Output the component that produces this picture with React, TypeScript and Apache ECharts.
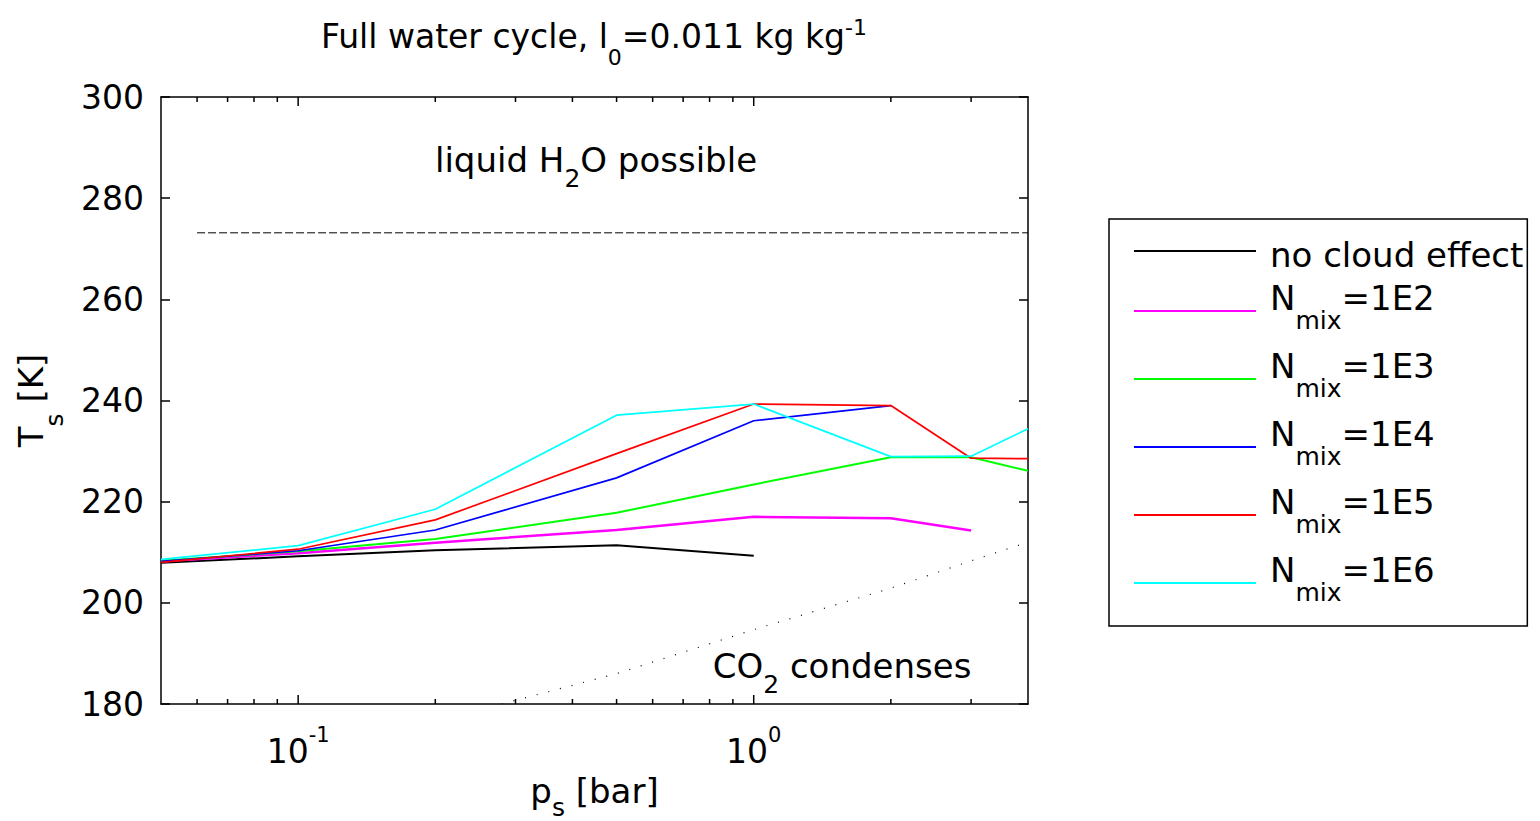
import { useEffect, useRef } from 'react';
import * as echarts from 'echarts';

const FONT = 'DejaVu Sans';

// Surface pressure samples [bar]
const pressure = [0.05, 0.1, 0.2, 0.5, 1, 2, 3, 4];

// Surface temperature [K] per configuration
const noCloud = [207.9, 209.2, 210.4, 211.4, 209.3];
const nmix1e2 = [208.2, 209.8, 211.9, 214.4, 217.0, 216.7, 214.3];
const nmix1e3 = [208.3, 210.2, 212.6, 217.8, 223.4, 228.8, 228.8, 226.1];
const nmix1e4 = [208.2, 210.3, 214.4, 224.7, 236.0, 239.0];
const nmix1e5 = [208.0, 210.6, 216.4, 229.5, 239.3, 239.0, 228.6, 228.5];
const nmix1e6 = [208.6, 211.3, 218.5, 237.1, 239.3, 228.9, 229.0, 234.4];

const seriesNames = ['no cloud effect', 'Nmix=1E2', 'Nmix=1E3', 'Nmix=1E4', 'Nmix=1E5', 'Nmix=1E6'];
const seriesValues = [noCloud, nmix1e2, nmix1e3, nmix1e4, nmix1e5, nmix1e6];
const seriesColors = ['#000000', '#ff00ff', '#00ff00', '#0000ff', '#ff0000', '#00ffff'];
const seriesWidths = [2, 2.5, 2, 1.7, 1.7, 1.7];

// Freezing point of water
const freezeP = [0.06, 4];
const freezeT = [273.15, 273.15];

// CO2 condensation curve
const co2P = [0.28, 0.5, 1, 2, 3, 4];
const co2T = [180, 186, 194.7, 202.9, 208.3, 212];

// Axis ranges and tick positions
const P_MIN = 0.05;
const P_MAX = 4;
const T_MIN = 180;
const T_MAX = 300;
const T_STEP = 20;
const majorTicks = [0.1, 1];
const minorTicks = [0.06, 0.07, 0.08, 0.09, 0.2, 0.3, 0.4, 0.5, 0.6, 0.7, 0.8, 0.9, 2, 3];

const txt = (size: number, extra: Record<string, unknown> = {}) => ({
  fontFamily: FONT,
  fontSize: size,
  color: '#000',
  ...extra,
});

// zrender-style text (graphic elements) uses fill instead of color
const gtxt = (size: number, extra: Record<string, unknown> = {}) => ({
  fontFamily: FONT,
  fontSize: size,
  fill: '#000',
  ...extra,
});

function tickSeries(values: number[], len: number) {
  return {
    type: 'custom',
    name: 'ticks',
    silent: true,
    z: 5,
    data: values.map((v) => [v, T_MIN]),
    renderItem: (_params: any, api: any) => {
      const v = api.value(0);
      const b = api.coord([v, T_MIN]);
      const t = api.coord([v, T_MAX]);
      const style = { stroke: '#000', lineWidth: 1.5 };
      return {
        type: 'group',
        children: [
          { type: 'line', shape: { x1: b[0], y1: b[1], x2: b[0], y2: b[1] - len }, style },
          { type: 'line', shape: { x1: t[0], y1: t[1], x2: t[0], y2: t[1] + len }, style },
        ],
      };
    },
  };
}

export default function App() {
  const ref = useRef<HTMLDivElement>(null);

  useEffect(() => {
    if (!ref.current) return;
    const chart = echarts.init(ref.current, undefined, { renderer: 'svg' });

    const axisLineStyle = { color: '#000', width: 1.5 };

    const lineSeries = seriesNames.map((name, i) => ({
      type: 'line',
      name,
      symbol: 'none',
      silent: true,
      z: 3,
      lineStyle: { color: seriesColors[i], width: seriesWidths[i] },
      itemStyle: { color: seriesColors[i] },
      data: seriesValues[i].map((t, j) => [pressure[j], t]),
    }));

    const annotationRich = {
      a: gtxt(34, { lineHeight: 36, verticalAlign: 'top', padding: [1, 0, 0, 0] }),
      sub: gtxt(25, { padding: [23.6, 0, 0, 0] }),
    };

    const option: any = {
      animation: false,
      backgroundColor: '#ffffff',
      grid: {
        left: 161,
        right: 512,
        top: 97,
        bottom: 117,
        containLabel: false,
        outerBoundsMode: 'none',
      },
      xAxis: [
        {
          type: 'log',
          logBase: 10,
          min: P_MIN,
          max: P_MAX,
          position: 'bottom',
          name: '{a|p}{sub|s}{a| [bar]}',
          nameLocation: 'middle',
          nameGap: 67,
          nameTextStyle: {
            rich: {
              a: txt(34, { lineHeight: 36, verticalAlign: 'top', padding: [1, 0, 0, 0] }),
              sub: txt(25, { padding: [22.5, 0, 0, 0] }),
            },
          },
          axisLine: { show: true, onZero: false, lineStyle: axisLineStyle },
          axisTick: { show: false },
          splitLine: { show: false },
          minorTick: { show: false },
          axisLabel: {
            margin: 20,
            showMinLabel: false,
            showMaxLabel: false,
            formatter: (v: number) => {
              const e = Math.log10(v);
              const r = Math.round(e);
              if (Math.abs(e - r) > 1e-6) return '';
              return `{b|10}{sup|${r}}`;
            },
            rich: {
              b: txt(33, { padding: [10.9, 0, 0, 0] }),
              sup: txt(21, { lineHeight: 22, verticalAlign: 'top' }),
            },
          },
        },
        {
          type: 'log',
          logBase: 10,
          min: P_MIN,
          max: P_MAX,
          position: 'top',
          axisLine: { show: true, onZero: false, lineStyle: axisLineStyle },
          axisTick: { show: false },
          axisLabel: { show: false },
          splitLine: { show: false },
        },
      ],
      yAxis: [
        {
          type: 'value',
          min: T_MIN,
          max: T_MAX,
          interval: T_STEP,
          position: 'left',
          name: '{a|T}{sub|s}{a| [K]}',
          nameLocation: 'middle',
          nameRotate: 90,
          nameGap: 94,
          nameTextStyle: {
            rich: {
              a: txt(34, { lineHeight: 36, verticalAlign: 'top', padding: [1, 0, 0, 0] }),
              sub: txt(25, { padding: [28.7, 0, 0, 0] }),
            },
          },
          axisLine: { show: true, lineStyle: axisLineStyle },
          axisTick: { show: true, inside: true, length: 9, lineStyle: axisLineStyle },
          axisLabel: { ...txt(33), margin: 17 },
          splitLine: { show: false },
        },
        {
          type: 'value',
          min: T_MIN,
          max: T_MAX,
          interval: T_STEP,
          position: 'right',
          axisLine: { show: true, lineStyle: axisLineStyle },
          axisTick: { show: true, inside: true, length: 9, lineStyle: axisLineStyle },
          axisLabel: { show: false },
          splitLine: { show: false },
        },
      ],
      legend: {
        data: seriesNames,
        orient: 'vertical',
        left: 1109,
        top: 219,
        padding: [9.25, 4, 12.25, 25],
        itemGap: 6.5,
        itemWidth: 122,
        itemHeight: 2,
        icon: 'rect',
        selectedMode: false,
        backgroundColor: '#ffffff',
        borderColor: '#000',
        borderWidth: 1.5,
        borderRadius: 0,
        formatter: (name: string) =>
          name.startsWith('Nmix') ? `{n|N}{sub|mix}{n|${name.slice(4)}}` : `{a|${name}}`,
        textStyle: {
          ...txt(34),
          padding: [0, 0, 0, 9],
          rich: {
            a: txt(34, { padding: [9.75, 0, 1.75, 0], backgroundColor: 'transparent' }),
            n: txt(34, { lineHeight: 36, verticalAlign: 'top', padding: [1, 0, 0, 0] }),
            sub: txt(25, { padding: [27.7, 0, 8.8, 0], backgroundColor: 'transparent' }),
          },
        },
      },
      graphic: [
        {
          type: 'text',
          x: 594,
          y: 16,
          silent: true,
          style: {
            text: '{a|Full water cycle, l}{sub|0}{a|=0.011 kg kg}{sup|-1}',
            align: 'center',
            verticalAlign: 'top',
            textAlign: 'center',
            textVerticalAlign: 'top',
            rich: {
              a: gtxt(33, { lineHeight: 34, verticalAlign: 'top', padding: [3.5, 0, 0, 0] }),
              sup: gtxt(22, { lineHeight: 24, verticalAlign: 'top' }),
              sub: gtxt(22, { padding: [30.4, 0, 0, 0] }),
            },
          },
        },
        {
          type: 'text',
          x: 596,
          y: 142,
          silent: true,
          style: {
            text: '{a|liquid H}{sub|2}{a|O possible}',
            align: 'center',
            verticalAlign: 'top',
            textAlign: 'center',
            textVerticalAlign: 'top',
            rich: annotationRich,
          },
        },
        {
          type: 'text',
          x: 842,
          y: 648,
          silent: true,
          style: {
            text: '{a|CO}{sub|2}{a| condenses}',
            align: 'center',
            verticalAlign: 'top',
            textAlign: 'center',
            textVerticalAlign: 'top',
            rich: annotationRich,
          },
        },
      ],
      series: [
        {
          type: 'line',
          name: 'freezing',
          symbol: 'none',
          silent: true,
          z: 2,
          lineStyle: { color: '#000', width: 1, type: [8, 3] },
          data: freezeP.map((p, i) => [p, freezeT[i]]),
        },
        {
          type: 'line',
          name: 'co2',
          symbol: 'none',
          silent: true,
          z: 2,
          lineStyle: { color: '#000', width: 1.2, type: [1, 11] },
          data: co2P.map((p, i) => [p, co2T[i]]),
        },
        ...lineSeries,
        tickSeries(majorTicks, 9),
        tickSeries(minorTicks, 5),
      ],
    };

    chart.setOption(option);
    return () => chart.dispose();
  }, []);

  return (
    <div
      ref={ref}
      style={{ position: 'absolute', left: 0, top: 0, width: 1540, height: 821, background: '#fff' }}
    />
  );
}
